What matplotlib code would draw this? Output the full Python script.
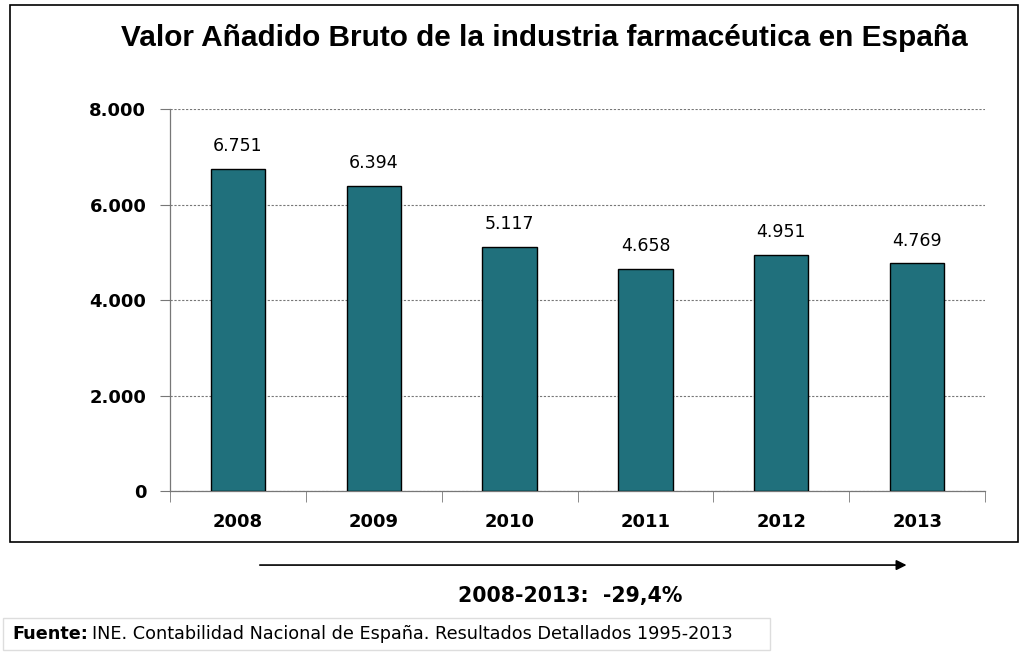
import matplotlib
matplotlib.use("Agg")
import matplotlib.pyplot as plt
from matplotlib import patches
from matplotlib.ticker import FuncFormatter, FixedLocator

plt.rcParams['font.family'] = ['DejaVu Sans']

# ==== Data ====
years = ["2008", "2009", "2010", "2011", "2012", "2013"]
vab = [6751, 6394, 5117, 4658, 4951, 4769]
value_labels = ["6.751", "6.394", "5.117", "4.658", "4.951", "4.769"]
y_ticks = [0, 2000, 4000, 6000, 8000]

BAR_COLOR = "#20707c"

fig = plt.figure(figsize=(10.24, 6.54), dpi=100)

# outer frame around the chart
fig.patches.append(patches.Rectangle((0.0098, 0.171), 0.984, 0.821,
                                     transform=fig.transFigure, fill=False,
                                     edgecolor="black", linewidth=1.2))

ax = fig.add_axes([0.166, 0.2492, 0.796, 0.5841])
x = list(range(len(years)))
ax.bar(x, vab, width=0.4, color=BAR_COLOR, edgecolor="black", linewidth=1.0, zorder=3)

for xi, v, lbl in zip(x, vab, value_labels):
    ax.text(xi, v + 280, lbl, ha="center", va="bottom", fontsize=12.5, zorder=4)

ax.set_xlim(-0.5, len(years) - 0.5)
ax.set_ylim(0, 8000)
ax.set_yticks(y_ticks)
ax.yaxis.set_major_formatter(FuncFormatter(lambda v, p: "0" if v == 0 else f"{int(v):,}".replace(",", ".")))
ax.yaxis.grid(True, linestyle=(0, (2, 1.5)), color="#777777", linewidth=0.8, zorder=0)

ax.set_xticks(x)
ax.set_xticklabels(years)
ax.xaxis.set_minor_locator(FixedLocator([i - 0.5 for i in range(len(years) + 1)]))
ax.tick_params(axis="x", which="major", length=0, pad=16, labelsize=13)
ax.tick_params(axis="x", which="minor", length=8, color="#777777", direction="out")
ax.tick_params(axis="y", length=7, color="#777777", pad=10, labelsize=13)
for lbl in ax.get_xticklabels() + ax.get_yticklabels():
    lbl.set_fontweight("bold")

for s in ["top", "right"]:
    ax.spines[s].set_visible(False)
for s in ["left", "bottom"]:
    ax.spines[s].set_color("#777777")
    ax.spines[s].set_linewidth(0.9)

fig.text(0.532, 0.942, "Valor Añadido Bruto de la industria farmacéutica en España",
         ha="center", va="center", fontsize=21.4, fontweight="bold",
         family=["Liberation Sans", "DejaVu Sans"])

# period arrow and total change
fig.patches.append(patches.FancyArrowPatch((0.251, 0.136), (0.888, 0.136),
                                           transform=fig.transFigure,
                                           arrowstyle="-|>,head_length=6,head_width=3",
                                           color="black", linewidth=1.2))
fig.text(0.557, 0.088, "2008-2013:  -29,4%", ha="center", va="center",
         fontsize=14.8, fontweight="bold")

# source box
fig.patches.append(patches.Rectangle((0.003, 0.006), 0.749, 0.049,
                                     transform=fig.transFigure, fill=False,
                                     edgecolor="#dddddd", linewidth=1.0))
t = fig.text(0.012, 0.030, "Fuente:", ha="left", va="center", fontsize=12.7, fontweight="bold")
fig.canvas.draw()
bb = t.get_window_extent().transformed(fig.transFigure.inverted())
fig.text(bb.x1 + 0.004, 0.030, "INE. Contabilidad Nacional de España. Resultados Detallados 1995-2013",
         ha="left", va="center", fontsize=12.7)

fig.savefig("out.png", dpi=100)
